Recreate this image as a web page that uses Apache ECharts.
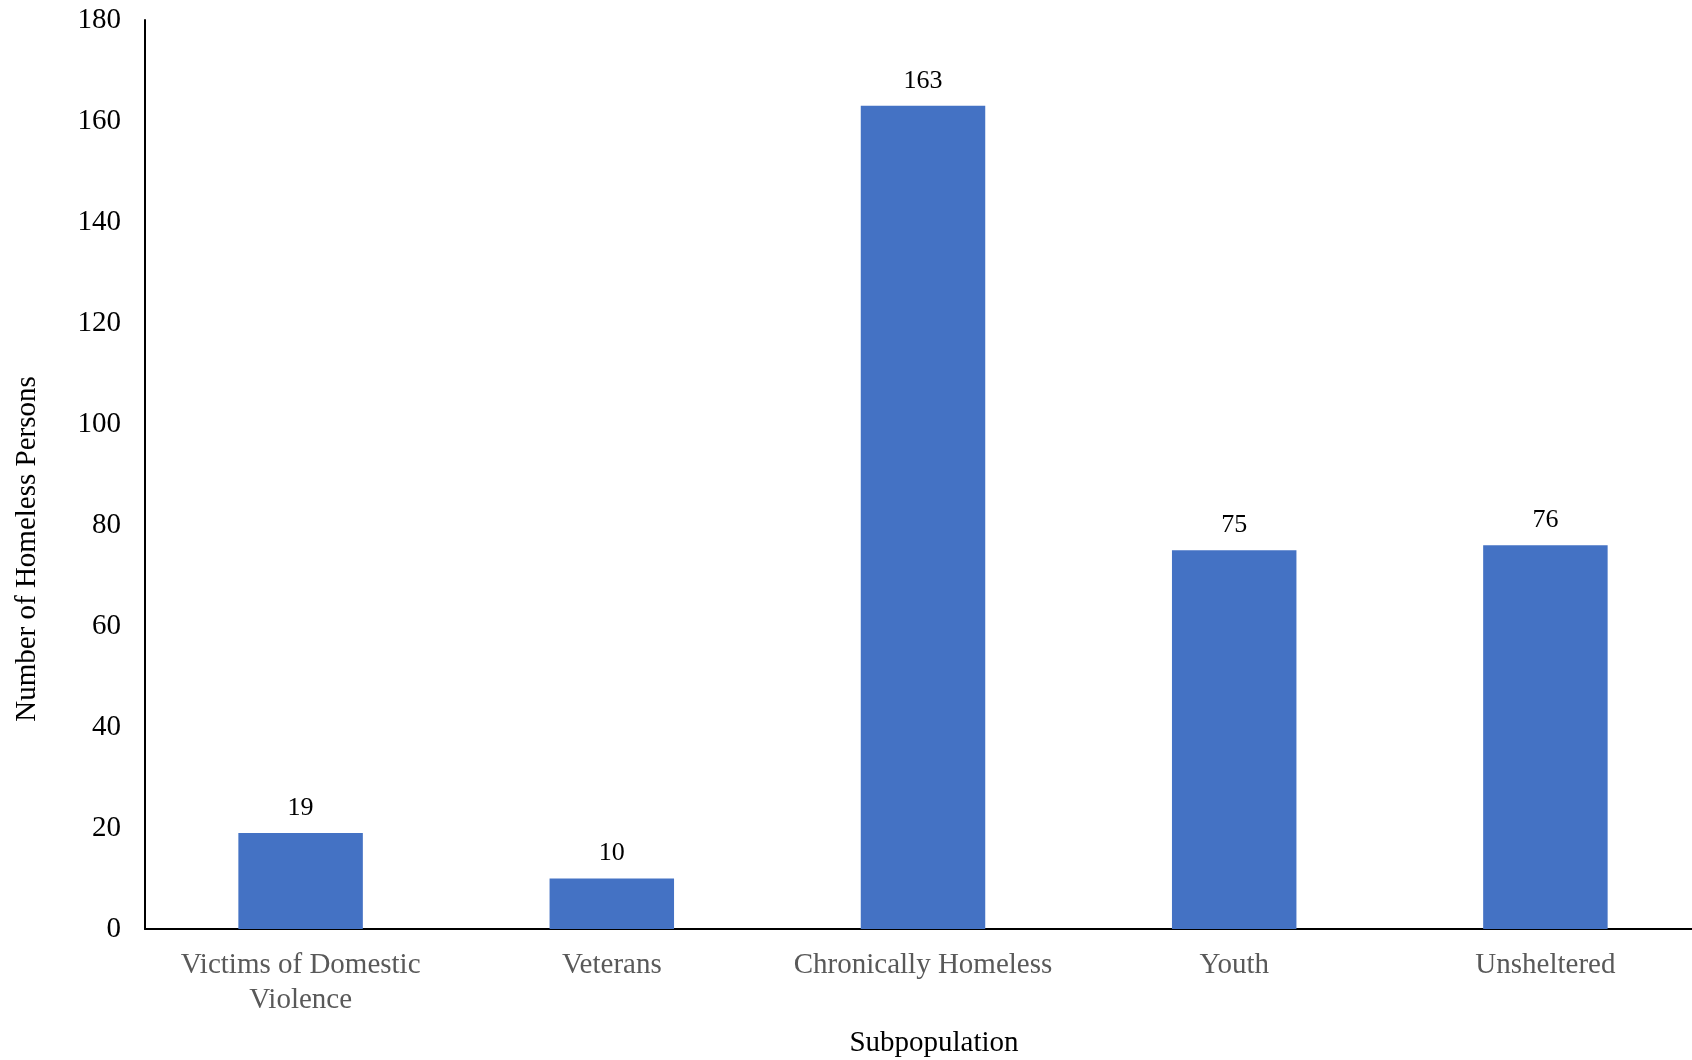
<!DOCTYPE html>
<html>
<head>
<meta charset="utf-8">
<script src="https://cdn.jsdelivr.net/npm/echarts@6/dist/echarts.min.js"></script>
<style>
	html, body { margin: 0; padding: 0; background: #fff; }
	#chart { width: 1692px; height: 1060px; }
</style>
</head>
<body>
<div id="chart"></div>
<script>
// subpopulation counts
const categories = ['Victims of Domestic\nViolence', 'Veterans', 'Chronically Homeless', 'Youth', 'Unsheltered']
const persons = [19, 10, 163, 75, 76]
const yTicks = [0, 180, 20] // min, max, interval

const font = 'Liberation Serif, Times New Roman, serif'

const chart = echarts.init(document.getElementById('chart'))
chart.setOption({
	animation: false,
	grid: {
		left: 145,
		right: -9, // plot runs a little past the right edge, like the original
		top: 20,
		bottom: 131,
		outerBoundsMode: 'none'
	},
	xAxis: {
		type: 'category',
		data: categories,
		name: 'Subpopulation',
		nameLocation: 'middle',
		nameGap: 100,
		nameTextStyle: { color: '#000', fontFamily: font, fontSize: 29, padding: [0, 0, 0, 22] },
		axisLine: { lineStyle: { color: '#000', width: 2 } },
		axisTick: { show: false },
		axisLabel: {
			interval: 0,
			color: '#595959',
			fontFamily: font,
			fontSize: 29,
			lineHeight: 35,
			margin: 19
		}
	},
	yAxis: {
		type: 'value',
		min: yTicks[0],
		max: yTicks[1],
		interval: yTicks[2],
		axisLine: { show: true, lineStyle: { color: '#000', width: 2 } },
		axisTick: { show: false },
		splitLine: { show: false },
		axisLabel: {
			color: '#000',
			fontFamily: font,
			fontSize: 29,
			margin: 24
		}
	},
	graphic: [{
		type: 'text',
		x: 27,
		y: 549,
		rotation: Math.PI / 2,
		style: {
			text: 'Number of Homeless Persons',
			fill: '#000',
			font: '29px ' + font,
			align: 'center',
			verticalAlign: 'middle'
		}
	}],
	series: [{
		type: 'bar',
		data: persons,
		barWidth: '40%',
		itemStyle: { color: '#4472C4' },
		label: {
			show: true,
			position: 'top',
			distance: 12,
			color: '#000',
			fontFamily: font,
			fontSize: 26
		}
	}]
})
</script>
</body>
</html>
